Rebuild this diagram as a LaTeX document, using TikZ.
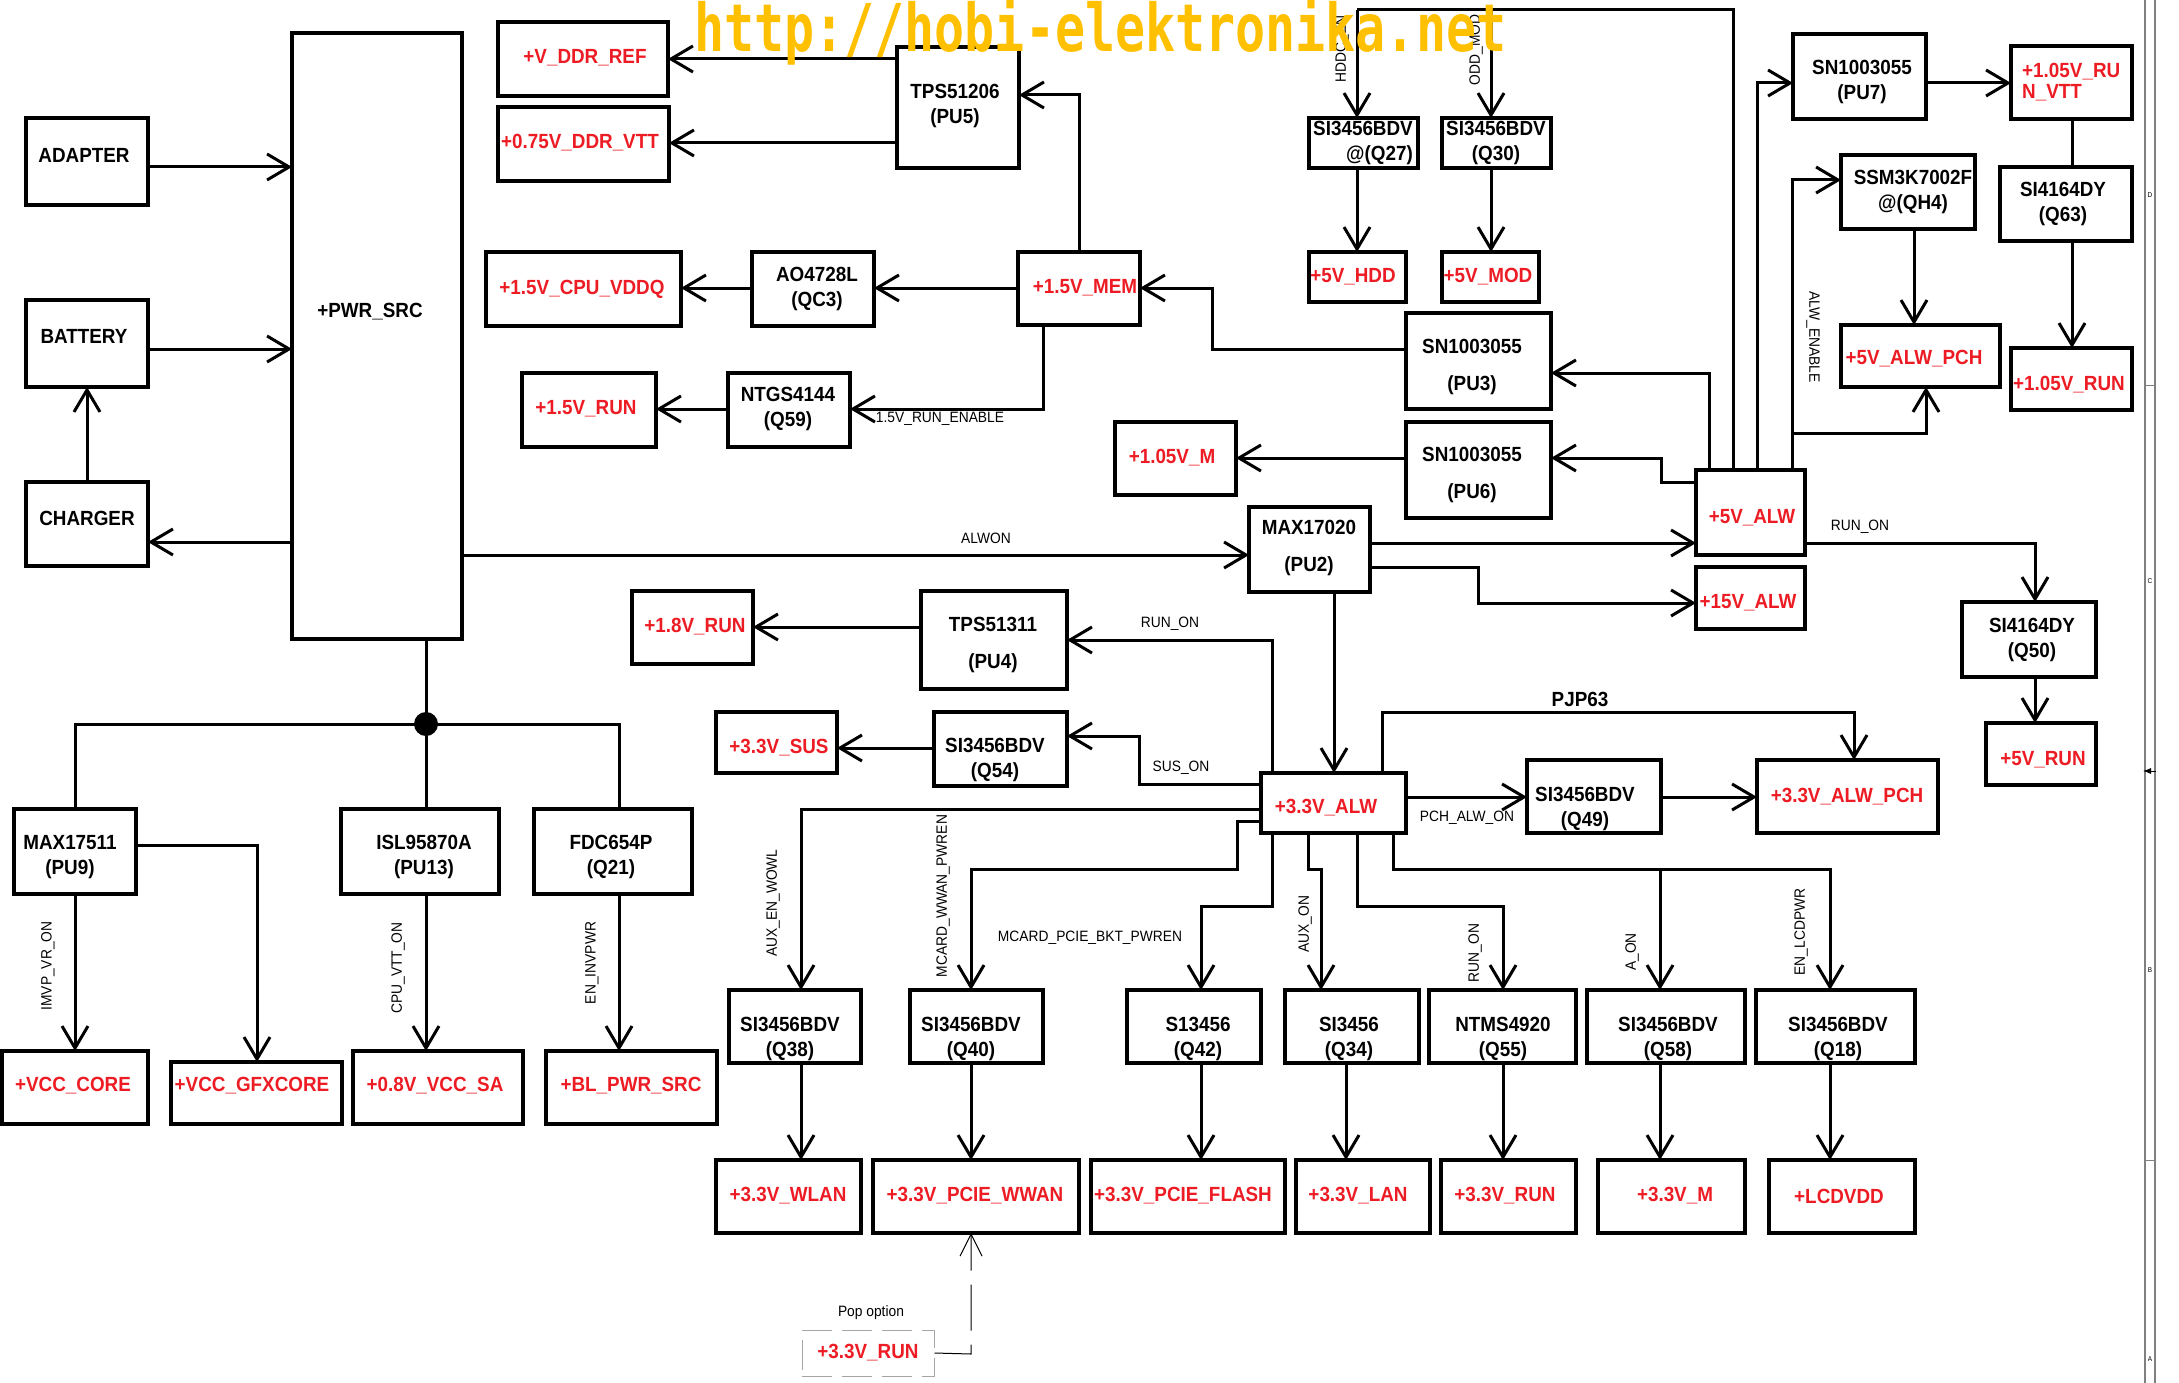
\documentclass[tikz,border=0pt]{standalone}
\usepackage{fontspec}
\setmainfont{Liberation Sans}[FakeStretch=0.92]
\newfontfamily\wmfont{DejaVu Sans Mono}
\usetikzlibrary{arrows.meta}
\definecolor{myred}{RGB}{237,28,36}
\definecolor{wmc}{RGB}{255,192,0}
\newcommand\mybx[5]{\node[box] (#1) at ({(#2+#4)/2},{(#3+#5)/2}) [minimum width={(#4-#2)*1pt}, minimum height={(#5-#3)*1pt}] {};}
\begin{document}
\begin{tikzpicture}[x=1pt,y=-1pt,
 box/.style={draw, line width=3.2pt, inner sep=0pt, outer sep=0pt},
 kt/.style={font=\bfseries\fontsize{20.5}{24.5}\selectfont, align=center, inner sep=0pt},
 rt/.style={kt, text=myred},
 lab/.style={font=\fontsize{15}{17}\selectfont, inner sep=0pt},
 blab/.style={font=\bfseries\fontsize{20.5}{22}\selectfont, inner sep=0pt},
 wire/.style={line width=3pt},
 arr/.style={wire, -{Straight Barb[length=22pt,width=26pt]}}]
\fill[white] (0,0) rectangle (2179,1383);
\useasboundingbox (0,0) rectangle (2179,1383);

% ---------- black boxes
\mybx{adapter}{26}{118}{148}{205} \node[kt] (tadapter) at (84,155) {ADAPTER};
\mybx{battery}{26}{300}{148}{387} \node[kt] (tbattery) at (84,336) {BATTERY};
\mybx{charger}{26}{482}{148}{566} \node[kt] (tcharger) at (87,518) {CHARGER};
\mybx{pwr}{292}{33}{462}{639} \node[kt] (tpwr) at (370,312) {+PWR\_SRC};
\mybx{pu5}{897}{47}{1019}{168} \node[kt] (tpu5) at (955,106) {TPS51206\\(PU5)};
\mybx{qc3}{752}{252}{874}{326} \node[kt] (tqc3) at (817,289) {AO4728L\\(QC3)};
\mybx{q59}{728}{373}{850}{447} \node[kt] (tq59) at (788,409) {NTGS4144\\(Q59)};
\mybx{q27}{1309}{118}{1418}{168} \node[kt, align=right, anchor=east] (tq27) at (1413,143) {SI3456BDV\\@(Q27)};
\mybx{q30}{1442}{118}{1551}{168} \node[kt] (tq30) at (1496,143) {SI3456BDV\\(Q30)};
\mybx{pu3}{1406}{313}{1551}{409} \node[kt] (tpu3) at (1472,367) {SN1003055\\[13pt](PU3)};
\mybx{pu6}{1406}{422}{1551}{518} \node[kt] (tpu6) at (1472,475) {SN1003055\\[13pt](PU6)};
\mybx{pu7}{1793}{34}{1926}{119} \node[kt] (tpu7) at (1862,82) {SN1003055\\(PU7)};
\mybx{qh4}{1841}{155}{1975}{229} \node[kt] (tqh4) at (1913,192) {SSM3K7002F\\@(QH4)};
\mybx{q63}{2000}{167}{2132}{241} \node[kt] (tq63) at (2063,204) {SI4164DY\\(Q63)};
\mybx{pu2}{1249}{507}{1370}{592} \node[kt] (tpu2) at (1309,548) {MAX17020\\[12pt](PU2)};
\mybx{q50}{1962}{602}{2096}{677} \node[kt] (tq50) at (2032,640) {SI4164DY\\(Q50)};
\mybx{pu4}{921}{591}{1067}{689} \node[kt] (tpu4) at (993,645) {TPS51311\\[12pt](PU4)};
\mybx{q54}{934}{712}{1067}{786} \node[kt] (tq54) at (995,760) {SI3456BDV\\(Q54)};
\mybx{q49}{1527}{760}{1661}{833} \node[kt] (tq49) at (1585,809) {SI3456BDV\\(Q49)};
\mybx{pu9}{14}{809}{136}{894} \node[kt] (tpu9) at (70,857) {MAX17511\\(PU9)};
\mybx{pu13}{341}{809}{499}{894} \node[kt] (tpu13) at (424,857) {ISL95870A\\(PU13)};
\mybx{q21}{534}{809}{692}{894} \node[kt] (tq21) at (611,857) {FDC654P\\(Q21)};
\mybx{q38}{729}{990}{861}{1063} \node[kt] (tq38) at (790,1039) {SI3456BDV\\(Q38)};
\mybx{q40}{910}{990}{1043}{1063} \node[kt] (tq40) at (971,1039) {SI3456BDV\\(Q40)};
\mybx{q42}{1127}{990}{1261}{1063} \node[kt] (tq42) at (1198,1039) {S13456\\(Q42)};
\mybx{q34}{1285}{990}{1419}{1063} \node[kt] (tq34) at (1349,1039) {SI3456\\(Q34)};
\mybx{q55}{1429}{990}{1576}{1063} \node[kt] (tq55) at (1503,1039) {NTMS4920\\(Q55)};
\mybx{q58}{1587}{990}{1745}{1063} \node[kt] (tq58) at (1668,1039) {SI3456BDV\\(Q58)};
\mybx{q18}{1756}{990}{1915}{1063} \node[kt] (tq18) at (1838,1039) {SI3456BDV\\(Q18)};

% ---------- red boxes
\mybx{vddref}{498}{22}{668}{96} \node[rt] (tvddref) at (585,58) {+V\_DDR\_REF};
\mybx{ddrvtt}{498}{107}{669}{181} \node[rt] (tddrvtt) at (580,143) {+0.75V\_DDR\_VTT};
\mybx{vddq}{486}{252}{681}{326} \node[rt] (tvddq) at (582,289) {+1.5V\_CPU\_VDDQ};
\mybx{run15}{522}{373}{656}{447} \node[rt] (trun15) at (586,409) {+1.5V\_RUN};
\mybx{mem}{1018}{252}{1140}{325} \node[rt] (tmem) at (1085,288) {+1.5V\_MEM};
\mybx{hdd}{1309}{252}{1406}{302} \node[rt] (thdd) at (1353,277) {+5V\_HDD};
\mybx{mod}{1442}{252}{1539}{302} \node[rt] (tmod) at (1488,277) {+5V\_MOD};
\mybx{vtt105}{2011}{46}{2132}{119} \node[rt, align=left, anchor=west] (tvtt105) at (2022,82) {+1.05V\_RU\\[-3pt]N\_VTT};
\mybx{alwpch5}{1841}{325}{2000}{387} \node[rt] (talwpch5) at (1914,359) {+5V\_ALW\_PCH};
\mybx{run105}{2011}{348}{2132}{410} \node[rt] (trun105) at (2069,385) {+1.05V\_RUN};
\mybx{m105}{1115}{422}{1236}{495} \node[rt] (tm105) at (1172,458) {+1.05V\_M};
\mybx{alw5}{1696}{470}{1805}{555} \node[rt] (talw5) at (1752,518) {+5V\_ALW};
\mybx{alw15}{1696}{567}{1805}{629} \node[rt] (talw15) at (1748,603) {+15V\_ALW};
\mybx{run5}{1986}{723}{2096}{785} \node[rt] (trun5) at (2043,760) {+5V\_RUN};
\mybx{run18}{632}{591}{753}{664} \node[rt] (trun18) at (695,627) {+1.8V\_RUN};
\mybx{sus33}{716}{712}{837}{773} \node[rt] (tsus33) at (779,748) {+3.3V\_SUS};
\mybx{alw33}{1261}{773}{1406}{833} \node[rt] (talw33) at (1326,808) {+3.3V\_ALW};
\mybx{alwpch33}{1757}{760}{1938}{833} \node[rt] (talwpch33) at (1847,797) {+3.3V\_ALW\_PCH};
\mybx{vcccore}{2}{1051}{148}{1124} \node[rt] (tvcccore) at (73,1086) {+VCC\_CORE};
\mybx{gfx}{171}{1062}{342}{1124} \node[rt] (tgfx) at (252,1086) {+VCC\_GFXCORE};
\mybx{sa}{353}{1051}{523}{1124} \node[rt] (tsa) at (435,1086) {+0.8V\_VCC\_SA};
\mybx{bl}{546}{1051}{717}{1124} \node[rt] (tbl) at (631,1086) {+BL\_PWR\_SRC};
\mybx{wlan}{716}{1160}{861}{1233} \node[rt] (twlan) at (788,1196) {+3.3V\_WLAN};
\mybx{wwan}{873}{1160}{1079}{1233} \node[rt] (twwan) at (975,1196) {+3.3V\_PCIE\_WWAN};
\mybx{flash}{1091}{1160}{1285}{1233} \node[rt] (tflash) at (1183,1196) {+3.3V\_PCIE\_FLASH};
\mybx{lan}{1296}{1160}{1430}{1233} \node[rt] (tlan) at (1358,1196) {+3.3V\_LAN};
\mybx{run33}{1441}{1160}{1576}{1233} \node[rt] (trun33) at (1505,1196) {+3.3V\_RUN};
\mybx{m33}{1598}{1160}{1745}{1233} \node[rt] (tm33) at (1675,1196) {+3.3V\_M};
\mybx{lcd}{1769}{1160}{1915}{1233} \node[rt] (tlcd) at (1839,1196) {+LCDVDD};

% pop option
\node[rt, draw=gray!70, line width=1pt, dash pattern=on 30pt off 10pt, minimum width=132pt, minimum height=46pt] (pop) at (868,1353) {+3.3V\_RUN};
\node[lab] (lpop) at (871,1313) {Pop option};
\draw[line width=1pt, dash pattern=on 46pt off 14pt, -{Straight Barb[length=22pt,width=22pt]}] (pop.east) -- (971,1354) -- (wwan.south -| 971,0);

% ---------- connectors, left
\draw[arr] (adapter.east |- 0,167) -- (pwr.west |- 0,167);
\draw[arr] (battery.east |- 0,349) -- (pwr.west |- 0,349);
\draw[arr] (pwr.west |- 0,542) -- (charger.east |- 0,542);
\draw[arr] (charger.north) -- (battery.south);
\draw[arr] (pwr.east |- 0,555) -- (pu2.west |- 0,555);
\node[lab] (lalwon) at (986,538) {ALWON};

% memory
\draw[arr] (pu5.west |- 0,59) -- (vddref.east |- 0,59);
\draw[arr] (pu5.west |- 0,143) -- (ddrvtt.east |- 0,143);
\draw[arr] (mem.north -| 1079,0) -- (1079,95) -- (pu5.east |- 0,95);
\draw[arr] (mem.west |- 0,288) -- (qc3.east |- 0,288);
\draw[arr] (qc3.west |- 0,288) -- (vddq.east |- 0,288);
\draw[arr] (mem.south -| 1043,0) -- (1043,409) -- (q59.east |- 0,409);
\node[lab] (lrunen) at (940,419) {1.5V\_RUN\_ENABLE};
\draw[arr] (q59.west |- 0,409) -- (run15.east |- 0,409);
\draw[arr] (pu3.west |- 0,349) -- (1212,349) -- (1212,288) -- (mem.east |- 0,288);

% +5V_ALW fan-out
\draw[arr] (alw5.north -| 1709,0) -- (1709,373) -- (pu3.east |- 0,373);
\draw[wire] (alw5.north -| 1733,0) -- (1733,10) -- (1357,10);
\draw[arr] (1357,10) -- (q27.north -| 1357,0);
\coordinate (oddj) at (1491,10);
\draw[arr] (oddj) -- (q30.north -| 1491,0);
\node[lab, rotate=90] (lhdd) at (1342,49) {HDDC\_EN};
\node[lab, rotate=90] (lodd) at (1476,50) {ODD\_MOD};
\draw[arr] (q27.south -| 1357,0) -- (hdd.north -| 1357,0);
\draw[arr] (q30.south -| 1491,0) -- (mod.north -| 1491,0);
\draw[arr] (alw5.north -| 1757,0) -- (1757,83) -- (pu7.west |- 0,83);
\draw[arr] (pu7.east |- 0,83) -- (vtt105.west |- 0,83);
\draw[wire] (vtt105.south -| 2072,0) -- (q63.north -| 2072,0);
\draw[arr] (q63.south -| 2072,0) -- (run105.north -| 2072,0);
\draw[arr] (alw5.north -| 1792,0) -- (1792,180) -- (qh4.west |- 0,180);
\coordinate (alwj) at (1792,433);
\draw[arr] (alwj) -- (1926,433) -- (alwpch5.south -| 1926,0);
\node[lab, rotate=-90] (lalwen) at (1813,337) {ALW\_ENABLE};
\draw[arr] (qh4.south -| 1914,0) -- (alwpch5.north -| 1914,0);
\draw[arr] (alw5.west |- 0,482) -- (1661,482) -- (1661,458) -- (pu6.east |- 0,458);
\draw[arr] (pu6.west |- 0,458) -- (m105.east |- 0,458);
\draw[arr] (pu2.east |- 0,543) -- (alw5.west |- 0,543);
\draw[arr] (pu2.east |- 0,567) -- (1478,567) -- (1478,603) -- (alw15.west |- 0,603);
\draw[arr] (alw5.east |- 0,543) -- (2035,543) -- (q50.north -| 2035,0);
\node[lab] (lrun1) at (1860,527) {RUN\_ON};
\draw[arr] (q50.south -| 2035,0) -- (run5.north -| 2035,0);

% +3.3V_ALW
\draw[arr] (pu2.south -| 1334,0) -- (alw33.north -| 1334,0);
\draw[arr] (alw33.north -| 1382,0) -- (1382,712) -- (1854,712) -- (alwpch33.north -| 1854,0);
\node[blab] (lpjp) at (1580,699) {PJP63};
\draw[arr] (alw33.east |- 0,797) -- (q49.west |- 0,797);
\node[lab] (lpch) at (1467,818) {PCH\_ALW\_ON};
\draw[arr] (q49.east |- 0,797) -- (alwpch33.west |- 0,797);
\draw[arr] (alw33.north -| 1272,0) -- (1272,640) -- (pu4.east |- 0,640);
\node[lab] (lrun2) at (1170,624) {RUN\_ON};
\draw[arr] (pu4.west |- 0,627) -- (run18.east |- 0,627);
\draw[arr] (alw33.west |- 0,784) -- (1139,784) -- (1139,736) -- (q54.east |- 0,736);
\node[lab] (lsus) at (1181,768) {SUS\_ON};
\draw[arr] (q54.west |- 0,748) -- (sus33.east |- 0,748);
\draw[arr] (alw33.west |- 0,809) -- (801,809) -- (q38.north -| 801,0);
\node[lab, rotate=90] (laux) at (773,903) {AUX\_EN\_WOWL};
\draw[arr] (alw33.west |- 0,821) -- (1237,821) -- (1237,869) -- (971,869) -- (q40.north -| 971,0);
\node[lab, rotate=90] (lmcw) at (943,896) {MCARD\_WWAN\_PWREN};
\draw[arr] (alw33.south -| 1272,0) -- (1272,906) -- (1201,906) -- (q42.north -| 1201,0);
\node[lab] (lmcp) at (1090,938) {MCARD\_PCIE\_BKT\_PWREN};
\draw[arr] (alw33.south -| 1308,0) -- (1308,869) -- (1321,869) -- (q34.north -| 1321,0);
\node[lab, rotate=90] (lauxon) at (1305,924) {AUX\_ON};
\draw[arr] (alw33.south -| 1357,0) -- (1357,906) -- (1503,906) -- (q55.north -| 1503,0);
\node[lab, rotate=90] (lrun3) at (1475,953) {RUN\_ON};
\draw[arr] (alw33.south -| 1393,0) -- (1393,869) -- (1830,869) -- (q18.north -| 1830,0);
\coordinate (q58j) at (1660,869);
\draw[arr] (q58j) -- (q58.north -| 1660,0);
\node[lab, rotate=90] (laon) at (1632,952) {A\_ON};
\node[lab, rotate=90] (llcd) at (1801,932) {EN\_LCDPWR};

% bottom row arrows
\draw[arr] (q38.south -| 801,0) -- (wlan.north -| 801,0);
\draw[arr] (q40.south -| 971,0) -- (wwan.north -| 971,0);
\draw[arr] (q42.south -| 1201,0) -- (flash.north -| 1201,0);
\draw[arr] (q34.south -| 1346,0) -- (lan.north -| 1346,0);
\draw[arr] (q55.south -| 1503,0) -- (run33.north -| 1503,0);
\draw[arr] (q58.south -| 1660,0) -- (m33.north -| 1660,0);
\draw[arr] (q18.south -| 1830,0) -- (lcd.north -| 1830,0);

% +PWR_SRC bottom tree
\node[circle, fill, minimum size=24pt, inner sep=0pt] (dot) at (426,724) {};
\draw[wire] (pwr.south -| 426,0) -- (dot.center);
\draw[wire] (pu9.north -| 75,0) -- (75,724) -- (619,724) -- (q21.north -| 619,0);
\draw[wire] (dot.center) -- (pu13.north -| 426,0);
\draw[arr] (pu9.south -| 75,0) -- (vcccore.north -| 75,0);
\draw[arr] (pu9.east |- 0,845) -- (257,845) -- (gfx.north -| 257,0);
\draw[arr] (pu13.south -| 426,0) -- (sa.north -| 426,0);
\draw[arr] (q21.south -| 619,0) -- (bl.north -| 619,0);
\node[lab, rotate=90] (limvp) at (48,966) {IMVP\_VR\_ON};
\node[lab, rotate=90] (lcpu) at (398,968) {CPU\_VTT\_ON};
\node[lab, rotate=90] (leninv) at (592,963) {EN\_INVPWR};

% right frame
\draw[gray, line width=1.5pt] (2145,0) -- (2145,1383);
\draw[gray, line width=1.5pt] (2155,0) -- (2155,1383);
\draw[gray, line width=0.8pt] (2145,385) -- (2155,385);
\draw[gray, line width=0.8pt] (2145,1160) -- (2155,1160);
\node[font=\fontsize{7}{7}\selectfont, inner sep=0pt] (fD) at (2150,195) {D};
\node[font=\fontsize{7}{7}\selectfont, inner sep=0pt] (fC) at (2150,581) {C};
\node[font=\fontsize{7}{7}\selectfont, inner sep=0pt] (fB) at (2150,970) {B};
\node[font=\fontsize{7}{7}\selectfont, inner sep=0pt] (fA) at (2150,1359) {A};
\draw[line width=0.8pt, -{Latex[length=8pt,width=6pt]}] (2156,771) -- (2143,771);

% watermark
\node[text=wmc, font=\wmfont\bfseries\fontsize{66}{66}\selectfont, anchor=base west, inner sep=0pt] (wm) at (694,52) {\scalebox{0.757}[1]{http://hobi-elektronika.net}};
\end{tikzpicture}
\end{document}
